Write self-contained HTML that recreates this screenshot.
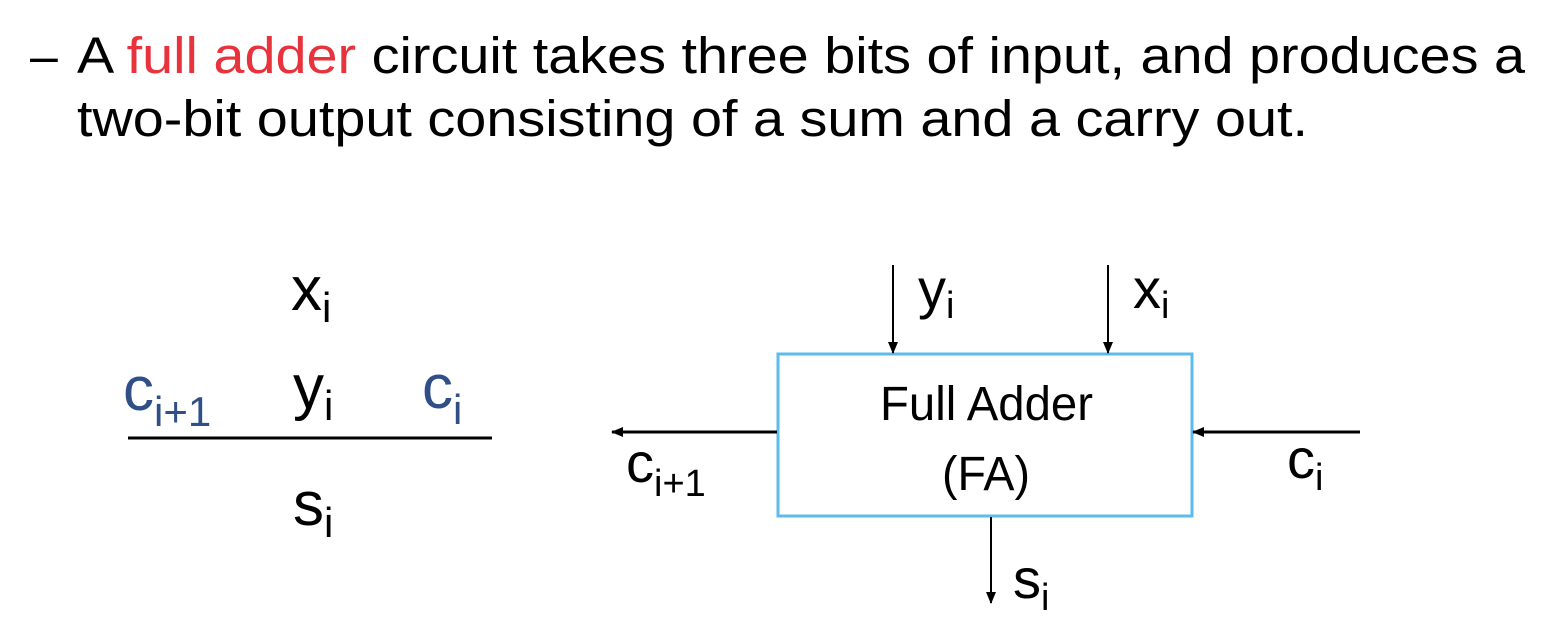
<!DOCTYPE html>
<html><head><meta charset="utf-8"><style>
html,body{margin:0;padding:0;background:#fff;width:1552px;height:641px;overflow:hidden}
svg{display:block;font-family:"Liberation Sans",Arial,sans-serif}
</style></head><body>
<svg width="1552" height="641" viewBox="0 0 1552 641" xmlns="http://www.w3.org/2000/svg">
<defs>
<marker id="a" markerWidth="12" markerHeight="10" refX="11" refY="5" orient="auto" markerUnits="userSpaceOnUse">
<path d="M0,0 L12,5 L0,10 Z" fill="#000"/></marker>
</defs>
<text x="30" y="73" font-size="50" fill="#000">–</text>
<text x="77" y="73" font-size="51" fill="#000" textLength="1448" lengthAdjust="spacingAndGlyphs">A <tspan fill="#e8323c">full adder</tspan> circuit takes three bits of input, and produces a</text>
<text x="77" y="136" font-size="51" fill="#000" textLength="1231" lengthAdjust="spacingAndGlyphs">two-bit output consisting of a sum and a carry out.</text>

<!-- left -->
<g font-size="62" fill="#000">
<text x="291" y="310">x<tspan font-size="42" dy="12">i</tspan></text>
<text x="293" y="408">y<tspan font-size="42" dy="12">i</tspan></text>
<text x="293" y="525">s<tspan font-size="42" dy="12">i</tspan></text>
</g>
<g font-size="62" fill="#2f4f86">
<text x="123" y="410">c<tspan font-size="42" dy="16">i+1</tspan></text>
<text x="422" y="408">c<tspan font-size="42" dy="16">i</tspan></text>
</g>
<line x1="128" y1="438" x2="492" y2="438" stroke="#000" stroke-width="3"/>

<!-- right -->
<rect x="778" y="354" width="414" height="162" fill="none" stroke="#5bbcee" stroke-width="3"/>
<text x="880" y="420" font-size="48" textLength="213" lengthAdjust="spacingAndGlyphs">Full Adder</text>
<text x="942" y="490" font-size="48" textLength="88" lengthAdjust="spacingAndGlyphs">(FA)</text>
<line x1="893" y1="265" x2="893" y2="353" stroke="#000" stroke-width="2" marker-end="url(#a)"/>
<line x1="1108" y1="265" x2="1108" y2="353" stroke="#000" stroke-width="2" marker-end="url(#a)"/>
<line x1="777" y1="432" x2="612" y2="432" stroke="#000" stroke-width="3" marker-end="url(#a)"/>
<line x1="1360" y1="432" x2="1193" y2="432" stroke="#000" stroke-width="3" marker-end="url(#a)"/>
<line x1="991" y1="517" x2="991" y2="603" stroke="#000" stroke-width="2" marker-end="url(#a)"/>
<g font-size="56" fill="#000">
<text x="918" y="308">y<tspan font-size="38" dy="10">i</tspan></text>
<text x="1133" y="308">x<tspan font-size="38" dy="10">i</tspan></text>
<text x="626" y="482">c<tspan font-size="38" dy="14">i+1</tspan></text>
<text x="1287" y="478">c<tspan font-size="38" dy="12">i</tspan></text>
<text x="1013" y="598">s<tspan font-size="38" dy="12">i</tspan></text>
</g>
</svg>
</body></html>
